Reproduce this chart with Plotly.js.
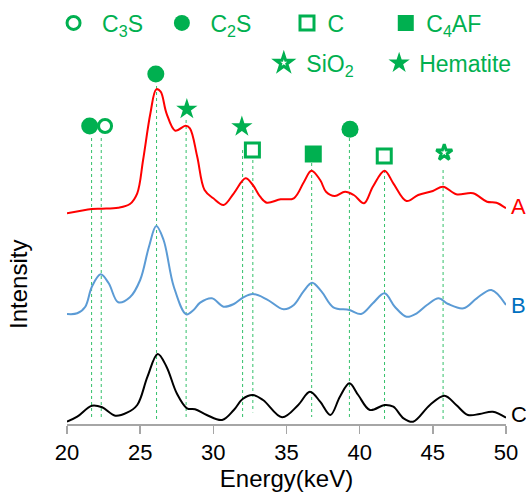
<!DOCTYPE html>
<html><head><meta charset="utf-8">
<script src="https://cdn.plot.ly/plotly-3.0.1.min.js"></script>
<style>html,body{margin:0;padding:0;background:#fff}</style>
</head><body><div id="chart" style="width:526px;height:496px"></div>
<script>
// Spectrum A (red)
const energyA = [20.0,21.7,22.4,23.5,24.3,24.8,25.2,25.7,26.1,26.4,26.8,27.4,28.1,28.4,28.9,29.4,30.0,30.7,31.4,32.2,32.7,33.2,33.65,34.6,35.5,36.2,36.7,37.3,37.7,38.3,39.0,39.6,40.3,40.9,41.7,42.3,43.2,44.0,45.0,45.7,46.6,47.75,48.7,49.35,50.0];
const intensityA = [210.7,215,215.3,216.3,220,230.7,264,310.7,334.7,332.3,310.7,293.3,298.3,295.7,267.3,234,225.7,219,230.7,245.7,239,227.3,221.3,224.7,225.7,242.3,253.3,244,232.3,228,232.3,229,220.7,237.3,253.3,240.7,223,229,233,237.3,229.7,230.7,222.3,221.3,215.7];
// Spectrum B (blue)
const energyB = [20.0,20.7,21.25,21.7,22.3,22.85,23.5,24.3,25.0,25.6,26.1,26.6,27.3,28.15,28.65,29.1,29.9,30.7,31.4,32.05,32.7,33.65,34.8,35.5,36.15,36.75,37.4,38.2,39.3,40.1,40.9,41.7,42.4,43.2,43.9,44.6,45.4,46.05,47.1,48.0,49.0,50.0];
const intensityB = [110,110.7,117.3,137.3,149.7,140.7,121.7,126.7,144,177.3,198,184,137.3,109.7,114,121.3,125.7,117.3,120,126.7,130,124.7,114.7,119,132.3,141.3,132.3,116.7,114,110,120.7,130.7,117.3,107.3,110.7,119,125.7,120,115.7,125.7,134,119];
// Spectrum C (black)
const energyC = [20.0,20.7,21.7,22.4,23.3,24.1,24.8,25.5,26.2,26.8,27.5,28.2,28.75,29.55,30.6,31.4,32.0,32.7,33.4,34.7,35.8,36.6,37.3,38.0,38.65,39.3,39.9,40.7,41.7,42.3,43.0,43.65,44.8,45.8,46.6,47.4,48.2,49.1,50.0];
const intensityC = [2.3,7.3,18.3,16.7,8.3,11.3,19,47.3,70,57.3,30.7,15.7,14.7,9,4,14,25,29,24,6.7,19,32.3,22.3,9,27.3,40.7,29,14,19,17.3,5.7,2.3,19,28.3,19,9,10,12.3,6.3];

// Phase identification markers
const c3sEnergy = [22.6],               c3sLevel = [298];
const c2sEnergy = [21.55, 26.07, 39.34], c2sLevel = [298, 350, 294.7];
const cEnergy   = [32.67, 41.68],        cLevel   = [274, 268];
const c4afEnergy = [36.83],              c4afLevel = [270];
const sio2Energy = [45.78],              sio2Level = [271.3];
const hemEnergy  = [28.19, 31.95],       hemLevel  = [314.7, 297.3];

// Dotted reference lines
const refEnergy = [21.68, 22.34, 26.12, 28.14, 32.0, 32.7, 36.72, 39.3, 41.7, 45.7];
const refTop    = [286, 286, 338, 304, 274, 264, 261, 286, 254, 254];
const refBottom = [5, 5, 5, 5, 6, 11.6, 7, 7, 5, 5];

const xTicks = [20, 25, 30, 35, 40, 45, 50];
const seriesLabels = ['A', 'B', 'C'];

const GREEN = '#00B050';
const FONT = 'Liberation Sans, Arial, sans-serif';

const refX = [], refY = [];
refEnergy.forEach((e, i) => { refX.push(e, e, null); refY.push(refTop[i], refBottom[i], null); });

const traces = [
  {x: refX, y: refY, mode: 'lines', line: {color: '#33C06A', width: 1, dash: 'dot'}, showlegend: false, hoverinfo: 'skip'},
  {x: energyA, y: intensityA, mode: 'lines', line: {color: '#FF0000', width: 2, shape: 'spline', smoothing: 1}, showlegend: false},
  {x: energyB, y: intensityB, mode: 'lines', line: {color: '#5B9BD5', width: 2, shape: 'spline', smoothing: 1}, showlegend: false},
  {x: energyC, y: intensityC, mode: 'lines', line: {color: '#000000', width: 2, shape: 'spline', smoothing: 1}, showlegend: false},
  {x: c3sEnergy, y: c3sLevel, mode: 'markers', name: 'C<sub>3</sub>S', legend: 'legend',
   marker: {symbol: 'circle-open', size: 13, color: GREEN, line: {width: 3, color: GREEN}}, cliponaxis: false},
  {x: c2sEnergy, y: c2sLevel, mode: 'markers', name: 'C<sub>2</sub>S', legend: 'legend2',
   marker: {symbol: 'circle', size: 17, color: GREEN}, cliponaxis: false},
  {x: cEnergy, y: cLevel, mode: 'markers', name: 'C', legend: 'legend3',
   marker: {symbol: 'square-open', size: 14, color: GREEN, line: {width: 3, color: GREEN}}, cliponaxis: false},
  {x: c4afEnergy, y: c4afLevel, mode: 'markers', name: 'C<sub>4</sub>AF', legend: 'legend4',
   marker: {symbol: 'square', size: 17, color: GREEN}, cliponaxis: false},
  {x: sio2Energy, y: sio2Level, mode: 'markers', name: 'SiO<sub>2</sub>', legend: 'legend5',
   marker: {symbol: 'star-open', size: 12, color: GREEN, line: {width: 3, color: GREEN}}, cliponaxis: false},
  {x: hemEnergy, y: hemLevel, mode: 'markers', name: 'Hematite', legend: 'legend6',
   marker: {symbol: 'star', size: 16, color: GREEN}, cliponaxis: false}
];

function leg(x, y, w) {
  return {x: x, y: y, xanchor: 'left', yanchor: 'middle', itemwidth: w, orientation: 'h',
    bgcolor: 'rgba(0,0,0,0)', borderwidth: 0, font: {family: FONT, size: 23, color: GREEN}};
}

const lastA = intensityA[intensityA.length - 1];
const lastB = intensityB[intensityB.length - 1];
const lastC = intensityC[intensityC.length - 1];

const layout = {
  width: 526, height: 496,
  margin: {l: 67, r: 20, t: 0, b: 72, autoexpand: false},
  paper_bgcolor: '#fff', plot_bgcolor: '#fff',
  font: {family: FONT, color: '#000'},
  showlegend: true,
  legend:  leg(-0.050, 0.9458, 47),
  legend2: leg(0.1968, 0.9458, 47),
  legend3: leg(0.500, 0.9458, 31),
  legend4: leg(0.725, 0.9458, 31),
  legend5: leg(0.4426, 0.8514, 35),
  legend6: leg(0.711, 0.8514, 30),
  xaxis: {range: [20, 50], tickvals: xTicks, ticktext: xTicks.map(String),
    showline: true, linecolor: '#A6A6A6', linewidth: 1.5, ticks: 'outside', ticklen: 8, tickwidth: 1.5, tickcolor: '#A6A6A6',
    showgrid: false, zeroline: false, tickfont: {size: 22, color: '#000'},
    title: {text: 'Energy(keV)', font: {size: 24, color: '#000'}, standoff: 2}, automargin: false},
  yaxis: {range: [0, 424], visible: false, fixedrange: true},
  annotations: [
    {x: -0.112, y: 0.33, xref: 'paper', yref: 'paper', text: 'Intensity', textangle: -90, showarrow: false,
     font: {size: 24, color: '#000'}, xanchor: 'center', yanchor: 'middle'},
    {x: 1.007, y: lastA + 1.5, xref: 'paper', yref: 'y', text: seriesLabels[0], showarrow: false, xanchor: 'left', yanchor: 'middle',
     font: {size: 22, color: '#FF0000'}},
    {x: 1.007, y: lastB, xref: 'paper', yref: 'y', text: seriesLabels[1], showarrow: false, xanchor: 'left', yanchor: 'middle',
     font: {size: 22, color: '#0070C0'}},
    {x: 1.007, y: lastC + 3.5, xref: 'paper', yref: 'y', text: seriesLabels[2], showarrow: false, xanchor: 'left', yanchor: 'middle',
     font: {size: 22, color: '#000'}}
  ]
};

Plotly.newPlot('chart', traces, layout, {staticPlot: true, displayModeBar: false});
</script>
</body></html>
